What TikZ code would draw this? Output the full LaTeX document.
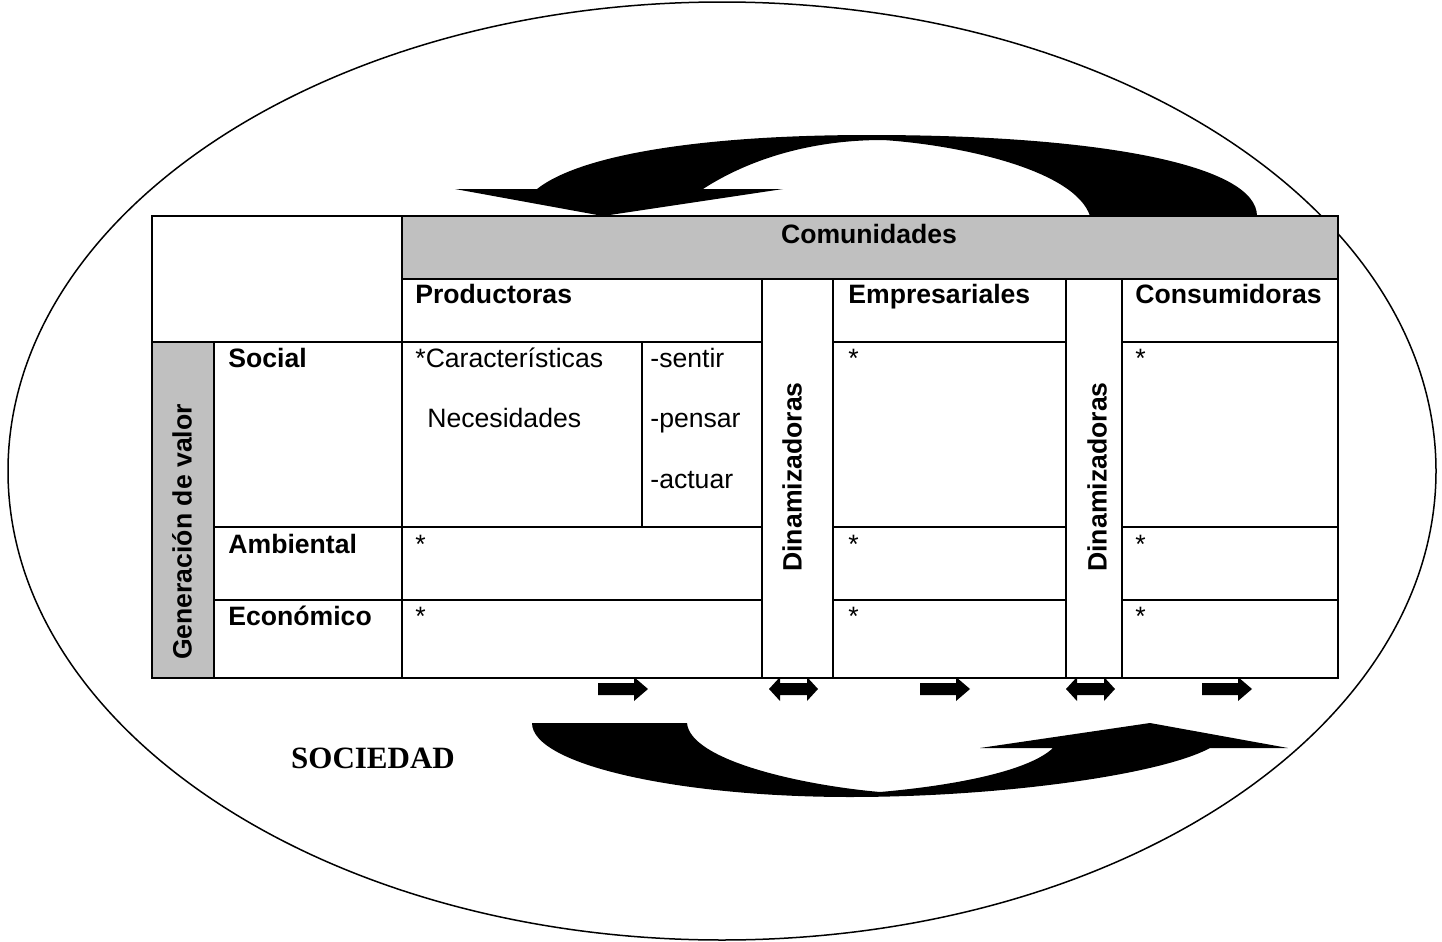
\documentclass[tikz,border=0pt]{standalone}
\usepackage{fontspec}
\setmainfont{Liberation Sans}
\newfontfamily\socfont{Liberation Serif}
\usetikzlibrary{calc}
\definecolor{bandgrey}{RGB}{192,192,192}

\begin{document}
\begin{tikzpicture}[x=0.5pt, y=-0.5pt,
		rule/.style={line width=1pt},
		hd/.style={font=\bfseries\fontsize{13.3}{16}\selectfont, anchor=base west, inner sep=0},
		txt/.style={font=\fontsize{13.3}{16}\selectfont, anchor=base west, inner sep=0},
		vert/.style={font=\bfseries\fontsize{13.3}{16}\selectfont, rotate=90, anchor=center, inner sep=0}]
		%%%%% START %%%%%
		\useasboundingbox (0,0) rectangle (1442,942);
		
		\draw[line width=0.75pt] (722,471) ellipse [x radius=357pt, y radius=234.5pt];
		
		% big curved arrows
		\fill (1090,216) .. controls (1075,170) and (960,145) .. (883,140)
			.. controls (800,140) and (740,165) .. (703,189)
			-- (783,189) -- (603,216) -- (455,189) -- (537,189)
			.. controls (580,155) and (700,135) .. (870,135)
			.. controls (1100,135) and (1257,165) .. (1257,216) -- cycle;
		\fill (532,723) -- (687,723)
			.. controls (690,760) and (800,785) .. (880,792)
			.. controls (960,785) and (1030,770) .. (1053,748)
			-- (980,748) -- (1150,723) -- (1288,748) -- (1210,748)
			.. controls (1160,775) and (1000,797) .. (850,797)
			.. controls (680,797) and (532,765) .. (532,723) -- cycle;
		
		% table
		\fill[white] (152,216) rectangle (1338,678);
		\fill[bandgrey] (402,216) rectangle (1338,279);
		\fill[bandgrey] (152,342) rectangle (214,678);
		\draw[rule] (152,216) rectangle (1338,678);
		\draw[rule] (402,279) -- (1338,279);
		\draw[rule] (402,216) -- (402,678);
		\draw[rule] (214,342) -- (214,678);
		\draw[rule] (642,342) -- (642,527);
		\foreach \c in {762,833,1066,1122}
			\draw[rule] (\c,279) -- (\c,678);
		\draw[rule] (152,342) -- (762,342) (833,342) -- (1066,342) (1122,342) -- (1338,342);
		\foreach \r in {527,600}
			\draw[rule] (214,\r) -- (762,\r) (833,\r) -- (1066,\r) (1122,\r) -- (1338,\r);
		
		\node[hd, anchor=base] (comunidades) at (869,243) {Comunidades};
		\node[hd] (productoras) at (415,303) {Productoras};
		\node[hd] (empresariales) at (848,303) {Empresariales};
		\node[hd] (consumidoras) at (1135,303) {Consumidoras};
		\node[vert] (dinam1) at (792,477) {Dinamizadoras};
		\node[vert] (dinam2) at (1097,477) {Dinamizadoras};
		\node[vert] (genvalor) at (182,532) {Generación de valor};
		
		\node[hd] (social) at (228,367) {Social};
		\node[hd] (ambiental) at (228,553) {Ambiental};
		\node[hd] (economico) at (228,625) {Económico};
		
		\node[txt] (caract) at (415,367) {*Características};
		\node[txt] (necesid) at (427,427) {Necesidades};
		\node[txt] (sentir) at (650,367) {-sentir};
		\node[txt] (pensar) at (650,427) {-pensar};
		\node[txt] (actuar) at (650,488) {-actuar};
		
		\node[txt] (prodamb) at (415,553) {*};
		\node[txt] (prodeco) at (415,625) {*};
		\node[txt] (empsoc) at (848,367) {*};
		\node[txt] (empamb) at (848,553) {*};
		\node[txt] (empeco) at (848,625) {*};
		\node[txt] (consoc) at (1135,367) {*};
		\node[txt] (conamb) at (1135,553) {*};
		\node[txt] (coneco) at (1135,625) {*};
		
		% small arrows under the table
		\foreach \x in {598,920,1202}
			\fill (\x,683) -- (\x+36,683) -- (\x+36,677) -- (\x+50,689) -- (\x+36,701) -- (\x+36,695) -- (\x,695) -- cycle;
		\foreach \x in {769,1066}
			\fill (\x,689) -- (\x+11,677) -- (\x+11,683) -- (\x+38,683) -- (\x+38,677) -- (\x+49,689) -- (\x+38,701) -- (\x+38,695) -- (\x+11,695) -- (\x+11,701) -- cycle;
		
		\node[font=\socfont\bfseries\fontsize{15.5}{18}\selectfont, anchor=base, inner sep=0] (sociedad) at (373,768) {SOCIEDAD};
		%%%%% END %%%%%
\end{tikzpicture}
\end{document}
